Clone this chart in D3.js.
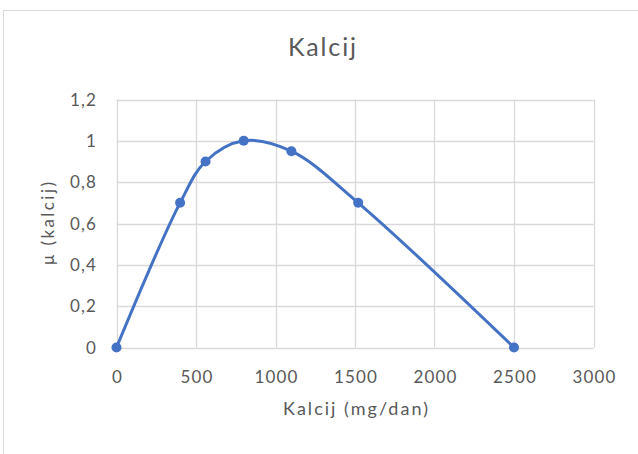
<!DOCTYPE html>
<html>
<head>
<meta charset="utf-8">
<script src="https://cdn.jsdelivr.net/npm/d3@7"></script>
<style>
  html, body { margin: 0; padding: 0; background: #fff; }
  svg { display: block; }
</style>
</head>
<body>
<svg id="chart" width="638" height="454"></svg>
<script>
const calcium = [0, 400, 560, 800, 1100, 1520, 2500];
const mu = [0, 0.7, 0.9, 1.0, 0.95, 0.7, 0];
const xTicks = [0, 500, 1000, 1500, 2000, 2500, 3000];
const yTicks = [0, 0.2, 0.4, 0.6, 0.8, 1, 1.2];
const titleText = "Kalcij";
const xTitle = "Kalcij (mg/dan)";
const yTitle = "μ (kalcij)";

const svg = d3.select("#chart");
const font = "Lato, 'Open Sans', sans-serif";
const textColor = "#595959";

// outer chart frame
svg.append("rect")
  .attr("x", 3.5).attr("y", 10.5)
  .attr("width", 700).attr("height", 500)
  .attr("fill", "#fff").attr("stroke", "#d9d9d9").attr("stroke-width", 1);

const pLeft = 116.5, pRight = 593.5, pTop = 99.5, pBottom = 347.5;
const x = d3.scaleLinear().domain([0, 3000]).range([pLeft, pRight]);
const y = d3.scaleLinear().domain([0, 1.2]).range([pBottom, pTop]);

// grid
const g = svg.append("g");
g.selectAll("line.h").data(yTicks).join("line")
  .attr("x1", pLeft).attr("x2", pRight)
  .attr("y1", d => Math.round(y(d)) + 0.5).attr("y2", d => Math.round(y(d)) + 0.5)
  .attr("stroke", "#d9d9d9").attr("stroke-width", 1.3);
g.selectAll("line.v").data(xTicks).join("line")
  .attr("y1", pTop).attr("y2", pBottom)
  .attr("x1", d => Math.round(x(d)) + 0.5).attr("x2", d => Math.round(x(d)) + 0.5)
  .attr("stroke", "#d9d9d9").attr("stroke-width", 1.3);

// axes (labels only)
const fmt = d => String(+d.toFixed(1)).replace(".", ",");
const xAxis = d3.axisBottom(x).tickValues(xTicks).tickSize(0).tickPadding(0).tickFormat(d => d);
const yAxis = d3.axisLeft(y).tickValues(yTicks).tickSize(0).tickPadding(0).tickFormat(fmt);

const xa = svg.append("g").attr("transform", `translate(0.5, 383)`).call(xAxis);
xa.select(".domain").remove();
xa.selectAll("text").attr("font-family", font).attr("font-size", 17).attr("fill", textColor)
  .attr("dy", "0").attr("letter-spacing", "1.1px");

const ya = svg.append("g").attr("transform", `translate(97, 0)`).call(yAxis);
ya.select(".domain").remove();
ya.selectAll("text").attr("font-family", font).attr("font-size", 17).attr("fill", textColor)
  .attr("letter-spacing", "1.1px").attr("dy", "0.34em");

// titles
svg.append("text").attr("x", 322).attr("y", 56).attr("text-anchor", "middle")
  .attr("font-family", font).attr("font-size", 25).attr("fill", textColor)
  .attr("textLength", 68).attr("lengthAdjust", "spacing").text(titleText);
svg.append("text").attr("x", 355.5).attr("y", 414.5).attr("text-anchor", "middle")
  .attr("font-family", font).attr("font-size", 18).attr("fill", textColor)
  .attr("textLength", 145).attr("lengthAdjust", "spacing").text(xTitle);
svg.append("text").attr("transform", `translate(54, 223.5) rotate(-90)`).attr("text-anchor", "middle")
  .attr("font-family", font).attr("font-size", 17).attr("fill", textColor)
  .attr("textLength", 83).attr("lengthAdjust", "spacing").text(yTitle);

// data
const data = calcium.map((c, i) => ({ c, m: mu[i] }));
const line = d3.line().x(d => x(d.c)).y(d => y(d.m)).curve(d3.curveCatmullRom.alpha(0.5));
svg.append("path").datum(data).attr("d", line)
  .attr("fill", "none").attr("stroke", "#4472c4").attr("stroke-width", 3)
  .attr("stroke-linejoin", "round").attr("stroke-linecap", "round");
svg.selectAll("circle.pt").data(data).join("circle")
  .attr("cx", d => x(d.c)).attr("cy", d => y(d.m)).attr("r", 5)
  .attr("fill", "#4472c4");
</script>
</body>
</html>
